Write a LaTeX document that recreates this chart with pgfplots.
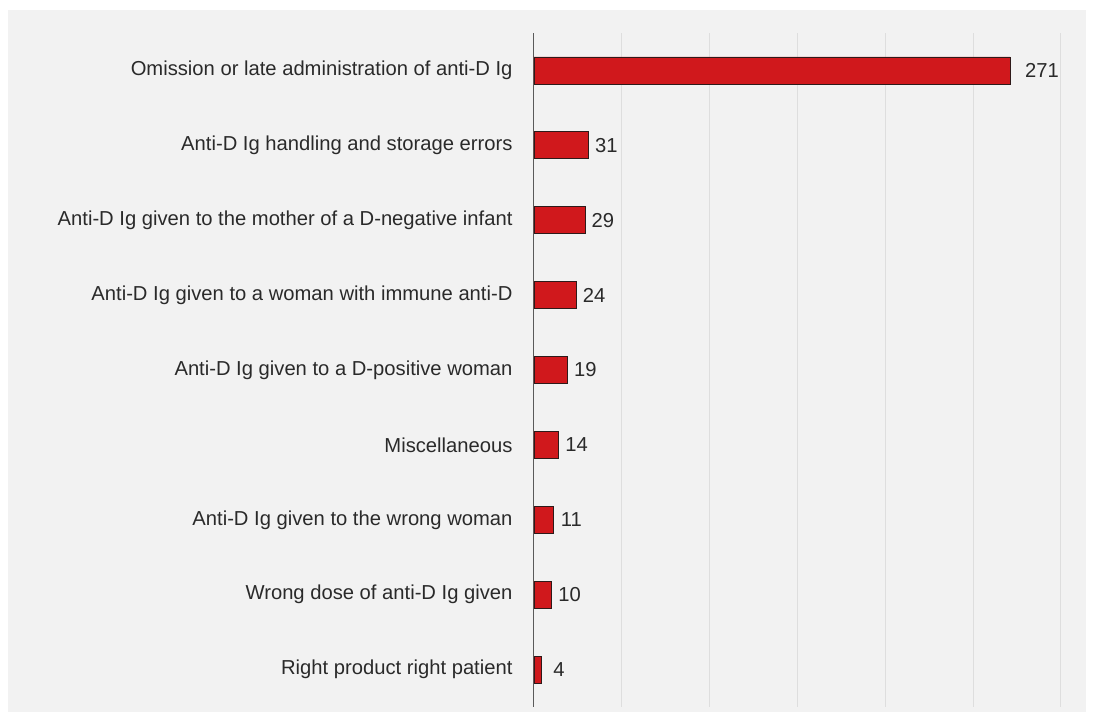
\documentclass[border=0pt]{standalone}
\usepackage{pgfplots}
\pgfplotsset{compat=1.18}
\usepackage{fontspec}
\setmainfont{Liberation Sans}
\definecolor{bg}{HTML}{F2F2F2}
\definecolor{gridc}{HTML}{DEDEDE}
\definecolor{axisc}{HTML}{5A5A5A}
\definecolor{barred}{HTML}{D0181C}
\definecolor{barborder}{HTML}{2E1A1A}
\definecolor{txt}{HTML}{2A2A2A}
\begin{document}
\begin{tikzpicture}[x=1pt,y=1pt]
\fill[white] (0,0) rectangle (1096,-722);
\fill[bg] (8,-10) rectangle (1086,-712);
\begin{axis}[
  at={(534pt,-707pt)}, anchor=south west,
  scale only axis, width=527pt, height=674pt,
  xmin=0, xmax=300, ymin=-0.5, ymax=8.5, y dir=reverse,
  xbar, bar width=27pt,
  xtick={50,100,...,300}, xticklabels={},
  xmajorgrids, grid style={draw=gridc, line width=1pt},
  extra x ticks={0}, extra x tick labels={},
  extra x tick style={grid style={draw=axisc, line width=1pt}},
  ytick={0,...,8},
  yticklabels={Omission or late administration of anti-D Ig,
    Anti-D Ig handling and storage errors,
    Anti-D Ig given to the mother of a D-negative infant,
    Anti-D Ig given to a woman with immune anti-D,
    Anti-D Ig given to a D-positive woman,
    Miscellaneous,
    Anti-D Ig given to the wrong woman,
    Wrong dose of anti-D Ig given,
    Right product right patient},
  major tick length=0pt,
  axis line style={draw=none},
  /pgf/number format/assume math mode=true,
  yticklabel style={font=\fontsize{20.2}{22}\selectfont, text=txt, anchor=east, xshift=-18pt},
  visualization depends on={rawx \as \rx},
  nodes near coords,
  nodes near coords style={font=\fontsize{20.2}{22}\selectfont, text=txt, anchor=center,
    xshift={(\rx>200 ? 32 : 18)*1pt}},
]
\addplot[draw=barborder, line width=0.8pt, fill=barred] coordinates {
  (271,0) (31,1) (29,2) (24,3) (19,4) (14,5) (11,6) (10,7) (4,8)};
\end{axis}
\end{tikzpicture}
\end{document}
